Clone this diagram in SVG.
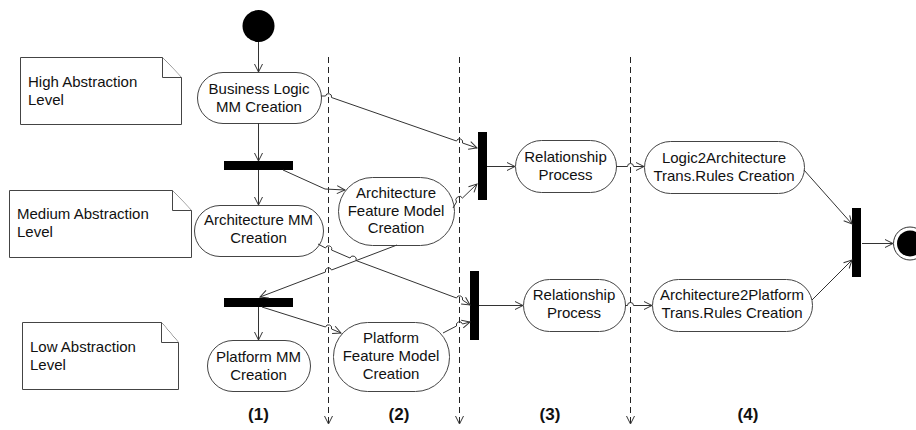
<svg xmlns="http://www.w3.org/2000/svg" width="916" height="430" viewBox="0 0 916 430">
<defs>
<marker id="arr" markerWidth="10" markerHeight="10" refX="9" refY="5" orient="auto" markerUnits="userSpaceOnUse">
<path d="M1,1 L9,5 L1,9" fill="none" stroke="#333" stroke-width="1"/>
</marker>
<style>
.bg{fill:#fff}
.node{fill:#fff;stroke:#444;stroke-width:1}
.note{fill:#fff;stroke:#444;stroke-width:1}
.bar{fill:#000}
.t{font-family:"Liberation Sans",Arial,sans-serif;font-size:15px;fill:#111}
.c{text-anchor:middle}
.lbl{font-family:"Liberation Sans",Arial,sans-serif;font-size:17px;font-weight:bold;fill:#111;text-anchor:middle}
.edge{fill:none;stroke:#333;stroke-width:1}
.lane{fill:none;stroke:#222;stroke-width:1;stroke-dasharray:6,4}
</style>
</defs>
<rect class="bg" x="0" y="0" width="916" height="430"/>

<g id="lanes">
<path class="lane" d="M328.5,57 L328.5,424" marker-end="url(#arr)"/>
<path class="lane" d="M459.5,57 L459.5,424" marker-end="url(#arr)"/>
<path class="lane" d="M630.5,57 L630.5,424" marker-end="url(#arr)"/>
</g>

<g id="note-high">
<path class="note" d="M20.5,57.5 L162.5,57.5 L181.5,77.5 L181.5,124.5 L20.5,124.5 Z"/>
<path class="note" d="M162.5,57.5 L162.5,77.5 L181.5,77.5"/>
<text class="t" x="28" y="87">High Abstraction</text>
<text class="t" x="28" y="105">Level</text>
</g>
<g id="note-medium">
<path class="note" d="M9.5,190.5 L172.5,190.5 L191.5,210.5 L191.5,257.5 L9.5,257.5 Z"/>
<path class="note" d="M172.5,190.5 L172.5,210.5 L191.5,210.5"/>
<text class="t" x="17" y="219">Medium Abstraction</text>
<text class="t" x="17" y="237">Level</text>
</g>
<g id="note-low">
<path class="note" d="M22.5,322.5 L161.5,322.5 L178.5,342.5 L178.5,389.5 L22.5,389.5 Z"/>
<path class="note" d="M161.5,322.5 L161.5,342.5 L178.5,342.5"/>
<text class="t" x="30" y="352">Low Abstraction</text>
<text class="t" x="30" y="370">Level</text>
</g>

<g id="start"><circle cx="258.5" cy="26" r="16" fill="#000"/></g>

<g id="bl"><rect class="node" x="197.5" y="72.5" width="124" height="51" rx="25.5"/>
<text class="t c" x="259" y="94">Business Logic</text><text class="t c" x="259" y="112">MM Creation</text></g>

<g id="fork1"><rect class="bar" x="224" y="161" width="69" height="9"/></g>

<g id="archmm"><rect class="node" x="194.5" y="205.5" width="129" height="51" rx="25.5"/>
<text class="t c" x="258.5" y="225">Architecture MM</text><text class="t c" x="258.5" y="243">Creation</text></g>

<g id="afm"><rect class="node" x="338.5" y="177.5" width="116" height="68" rx="34"/>
<text class="t c" x="396" y="198">Architecture</text><text class="t c" x="396" y="215.5">Feature Model</text><text class="t c" x="396" y="233">Creation</text></g>

<g id="fork2"><rect class="bar" x="224" y="298" width="69" height="9"/></g>

<g id="platmm"><rect class="node" x="207.5" y="340.5" width="103" height="51" rx="25.5"/>
<text class="t c" x="258.5" y="362">Platform MM</text><text class="t c" x="258.5" y="380">Creation</text></g>

<g id="pfm"><rect class="node" x="333.5" y="322.5" width="116" height="69" rx="34"/>
<text class="t c" x="391" y="343">Platform</text><text class="t c" x="391" y="361">Feature Model</text><text class="t c" x="391" y="379">Creation</text></g>

<g id="join1"><rect class="bar" x="478" y="132" width="9" height="68"/></g>

<g id="rp1"><rect class="node" x="515.5" y="140.5" width="101" height="52" rx="26"/>
<text class="t c" x="565.5" y="162">Relationship</text><text class="t c" x="565.5" y="180">Process</text></g>

<g id="l2a"><rect class="node" x="644.5" y="141.5" width="160" height="52" rx="26"/>
<text class="t c" x="724" y="163">Logic2Architecture</text><text class="t c" x="724" y="181">Trans.Rules Creation</text></g>

<g id="join2"><rect class="bar" x="470" y="271" width="9" height="69"/></g>

<g id="rp2"><rect class="node" x="523.5" y="279.5" width="102" height="52" rx="26"/>
<text class="t c" x="574" y="300">Relationship</text><text class="t c" x="574" y="318">Process</text></g>

<g id="a2p"><rect class="node" x="652.5" y="279.5" width="160" height="52" rx="26"/>
<text class="t c" x="732" y="300">Architecture2Platform</text><text class="t c" x="732" y="318">Trans.Rules Creation</text></g>

<g id="finaljoin"><rect class="bar" x="852" y="208" width="9" height="69"/></g>

<g id="end"><circle cx="910" cy="243.5" r="16.5" fill="#fff" stroke="#333" stroke-width="1"/><circle cx="910" cy="243.5" r="13" fill="#000"/></g>

<g id="connectors">
<path class="edge" d="M258.5,42 L258.5,72" marker-end="url(#arr)"/>
<path class="edge" d="M258.5,123 L258.5,161" marker-end="url(#arr)"/>
<path class="edge" d="M258.5,170 L258.5,205" marker-end="url(#arr)"/>
<path class="edge" d="M283,170 L325,189 L345,190" marker-end="url(#arr)"/>
<path class="edge" d="M321,96 L325.5,96 A3,3 0 0 1 331.5,97.5 L456.5,141 A3,3 0 0 1 462.5,143 L477,148" marker-end="url(#arr)"/>
<path class="edge" d="M453,208 L456.5,202 A3,3 0 0 1 462.5,198 L477,184" marker-end="url(#arr)"/>
<path class="edge" d="M487,166.5 L515,166.5" marker-end="url(#arr)"/>
<path class="edge" d="M616,166.5 L627.5,166.5 A3,3 0 0 1 633.5,166.5 L644,166.5" marker-end="url(#arr)"/>
<path class="edge" d="M804,170 L852,224" marker-end="url(#arr)"/>
<path class="edge" d="M812,300 L852,260" marker-end="url(#arr)"/>
<path class="edge" d="M862,243.5 L893,243.5" marker-end="url(#arr)"/>
<path class="edge" d="M318,244 L325.5,248 A3,3 0 0 1 331.5,250 L350,258 A3,3 0 0 1 356,260.5 L456.5,298 A3,3 0 0 1 462.5,300 L470,305" marker-end="url(#arr)"/>
<path class="edge" d="M397,245 L331.5,270 A3,3 0 0 0 325.5,272 L260,297" marker-end="url(#arr)"/>
<path class="edge" d="M258.5,307 L258.5,340" marker-end="url(#arr)"/>
<path class="edge" d="M262,307 L325.5,327 A3,3 0 0 1 331.5,329 L341,333" marker-end="url(#arr)"/>
<path class="edge" d="M443,333 L456.5,326 A3,3 0 0 1 462.5,324 L470,322" marker-end="url(#arr)"/>
<path class="edge" d="M479,305.5 L523,305.5" marker-end="url(#arr)"/>
<path class="edge" d="M625,305.5 L627.5,305.5 A3,3 0 0 1 633.5,305.5 L652,305.5" marker-end="url(#arr)"/>
</g>

<g id="labels">
<text class="lbl" x="258.5" y="420">(1)</text>
<text class="lbl" x="399" y="420">(2)</text>
<text class="lbl" x="550" y="420">(3)</text>
<text class="lbl" x="748" y="420">(4)</text>
</g>
</svg>
